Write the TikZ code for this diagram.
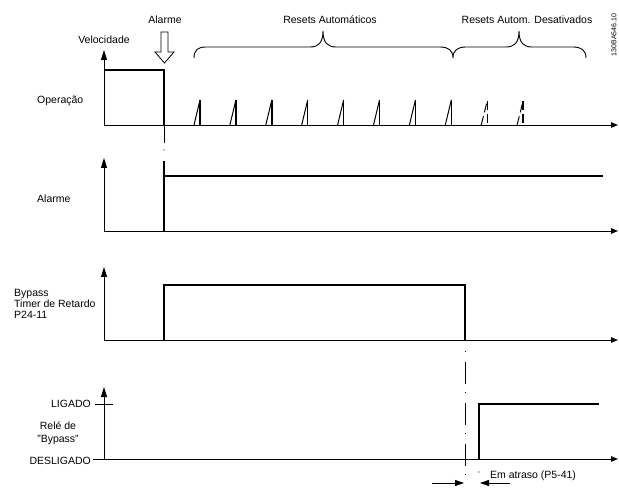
\documentclass[tikz,border=0pt]{standalone}
\usepackage{fontspec}
\setmainfont{Liberation Sans}
\usetikzlibrary{arrows.meta}
\begin{document}
\begin{tikzpicture}[x=1pt,y=-1pt,
  lbl/.style={font=\fontsize{10.5}{11}\selectfont, inner sep=0pt},
  axis/.style={line width=0.9pt, -{Triangle[length=7pt,width=5.5pt]}},
  yaxis/.style={line width=0.9pt, -{Triangle[length=10pt,width=6pt]}},
  sig/.style={line width=1.4pt},
  spike/.style={line width=1pt},
  dspike/.style={line width=1pt, dash pattern=on 9pt off 4pt},
  brace/.style={line width=0.9pt},
  dashdot/.style={line width=0.9pt, dash pattern=on 1pt off 10pt on 22pt off 8pt},
  dimarrow/.style={line width=0.9pt, -{Triangle[length=9pt,width=6pt]}}]
\useasboundingbox (0,0) rectangle (619,489);

% ---------- top labels ----------
\node[lbl] (alarmtop) at (165,20) {Alarme};
\node[lbl] (vel) at (104,40) {Velocidade};
\node[lbl] (resets) at (330,20) {Resets Automáticos};
\node[lbl] (resetsoff) at (527,20) {Resets Autom. Desativados};
\node[inner sep=0pt, font=\fontsize{7}{8}\selectfont, rotate=90] (code) at (614,35) {130BA546.10};

% hollow alarm arrow
\draw[line width=0.8pt, fill=white] (161,32) -- (168,32) -- (168,52) -- (174,52)
  -- (164.5,63) -- (155,52) -- (161,52) -- cycle;

% braces
\draw[brace] (194,58) .. controls (194,50) and (198,47) .. (206,47) -- (310,47)
  .. controls (318,47) and (323,43) .. (323,31)
  .. controls (323,43) and (328,47) .. (336,47) -- (440,47)
  .. controls (448,47) and (453,50) .. (453,58)
  .. controls (453,50) and (458,47) .. (466,47) -- (506,47)
  .. controls (514,47) and (519,43) .. (519,31)
  .. controls (519,43) and (524,47) .. (532,47) -- (573,47)
  .. controls (581,47) and (586,50) .. (586,58);

% ---------- graph 1 : Operação ----------
\coordinate (o1) at (104,125);
\node[lbl, anchor=west] (op) at (37,101) {Operação};
\draw[yaxis] (o1) -- (104,50);
\draw[axis] (o1) -- (618,125);
\draw[sig] (104,70) -- (164,70) -- (164,125);
\draw[line width=0.9pt] (164,125) -- (164,143);
\fill (164,150) circle (0.6pt);
\foreach \i in {0,...,7} {
  \pgfmathsetmacro{\r}{200+35.9*\i}
  \draw[spike] (\r-6,125) -- (\r,100);
  \draw[sig] (\r,100) -- (\r,125);
}
\foreach \i in {8,9} {
  \pgfmathsetmacro{\r}{200+35.9*\i}
  \draw[dspike] (\r-6,125) -- (\r,101);
  \draw[dspike, line width=1.4pt] (\r,101) -- (\r,125);
}

% ---------- graph 2 : Alarme ----------
\coordinate (o2) at (104,231);
\node[lbl, anchor=west] (al) at (37,199) {Alarme};
\draw[yaxis] (o2) -- (104,158);
\draw[axis] (o2) -- (618,231);
\draw[sig] (164,231) -- (164,161);
\draw[sig] (164,176) -- (603,176);

% ---------- graph 3 : Bypass timer ----------
\coordinate (o3) at (104,340);
\node[lbl, anchor=west, align=left, font=\fontsize{10.5}{10.7}\selectfont] (bt) at (14,304) {Bypass\\Timer de Retardo\\P24-11};
\draw[yaxis] (o3) -- (104,267);
\draw[axis] (o3) -- (618,340);
\draw[sig] (164,340) -- (164,285) -- (465,285) -- (465,340);

% ---------- graph 4 : relay ----------
\coordinate (o4) at (93,459);
\node[lbl, anchor=east] (lig) at (91,404) {LIGADO};
\node[lbl, anchor=east] (deslig) at (91,461) {DESLIGADO};
\node[lbl, align=center, font=\fontsize{10.5}{13}\selectfont] (rel) at (58,433) {Relé de\\"Bypass"};
\draw[yaxis] (104,459) -- (104,387);
\draw[axis] (o4) -- (618,459);
\draw[line width=0.8pt] (95,404) -- (113,404);
\draw[sig] (479,459) -- (479,404) -- (599,404);
\fill (479,472) circle (0.6pt);

% dash-dot line at end of timer
\draw[dashdot] (465,351) -- (465,476);

% delay dimension
\coordinate (d1) at (432,483);
\coordinate (d2) at (464,483);
\coordinate (d3) at (510,483);
\coordinate (d4) at (480,483);
\draw[dimarrow] (d1) -- (d2);
\draw[dimarrow] (d3) -- (d4);
\node[lbl, anchor=west] (delay) at (490,476) {Em atraso (P5-41)};
\end{tikzpicture}
\end{document}
